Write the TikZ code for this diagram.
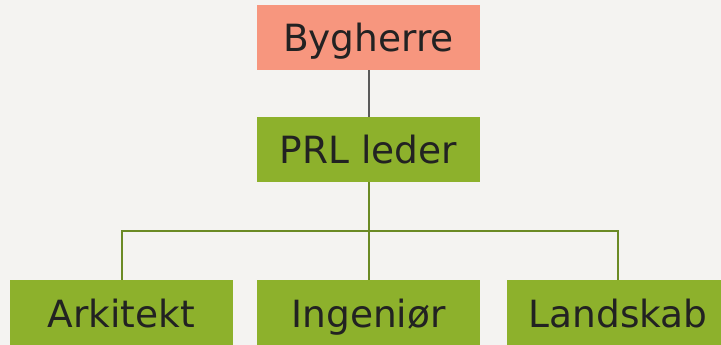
\documentclass[tikz,border=0pt]{standalone}
\usepackage{fontspec}
\setmainfont{DejaVu Sans}
\definecolor{bg}{HTML}{F4F3F1}
\definecolor{salmon}{HTML}{F7967E}
\definecolor{leaf}{HTML}{8DB12C}
\definecolor{linegrey}{HTML}{5A5A5A}
\definecolor{lineolive}{HTML}{6B8A25}
\definecolor{txt}{HTML}{222222}
\begin{document}
\begin{tikzpicture}[x=1pt,y=-1pt,
  orgbox/.style={rectangle, fill=leaf, draw=none, minimum width=223pt, minimum height=65pt,
    inner sep=0pt, text height=29pt, text depth=0pt, text=txt, font=\fontsize{37.5}{40}\selectfont},
  topbox/.style={orgbox, fill=salmon},
  conn/.style={draw=lineolive, line width=2pt}]
\useasboundingbox[fill=bg] (0,0) rectangle (721,345);
\clip (0,0) rectangle (721,345);
\node[topbox] (by) at (368.5,37.5) {Bygherre};
\node[orgbox] (prl) at (368.5,149.5) {PRL leder};
\node[orgbox] (ark) at (121.5,312.5) {Arkitekt};
\node[orgbox] (ing) at (368.5,312.5) {Ingeniør};
\node[orgbox] (lan) at (618,312.5) {Landskab};
\coordinate (hub) at (368.5,231);
\draw[draw=linegrey, line width=2pt] (by.south) -- (prl.north);
\draw[conn] (prl.south) -- (hub);
\draw[conn] (ark.north) |- (hub) -| (lan.north);
\draw[conn] (hub) -- (ing.north);
\end{tikzpicture}
\end{document}
